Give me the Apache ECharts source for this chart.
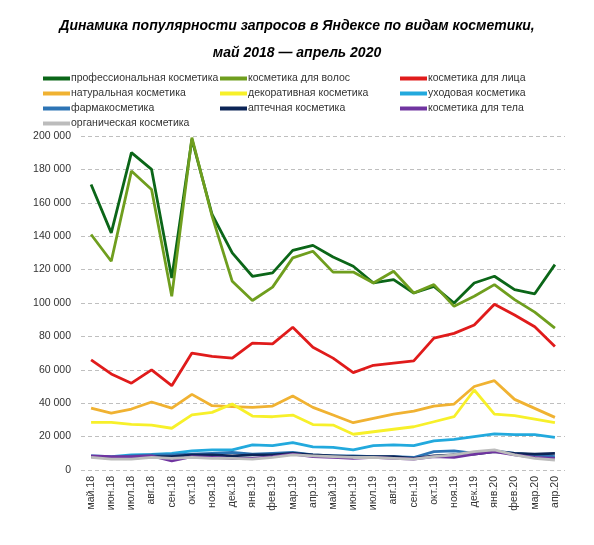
<!DOCTYPE html>
<html>
<head>
<meta charset="utf-8">
<script src="https://cdn.jsdelivr.net/npm/echarts@6/dist/echarts.min.js"></script>
<style>
html,body{margin:0;padding:0;background:#fff;}
#chart{width:594px;height:545px;}
</style>
</head>
<body>
<div id="chart"></div>
<script>
const categories = ['май.18','июн.18','июл.18','авг.18','сен.18','окт.18','ноя.18','дек.18','янв.19','фев.19','мар.19','апр.19','май.19','июн.19','июл.19','авг.19','сен.19','окт.19','ноя.19','дек.19','янв.20','фев.20','мар.20','апр.20'];

const professional = [171000,142000,190000,180000,115000,198000,153000,130000,116000,118000,131500,134500,127500,122000,112000,114000,106000,110000,100000,112000,116000,108000,105500,123000];
const hair = [141000,125000,179000,168000,104000,199000,152000,113000,101500,109500,127000,131000,118500,118500,112000,119000,106000,111000,98000,104000,111000,102000,94500,85000];
const face = [66000,57500,52000,60000,50500,70000,68000,67000,76000,75500,85500,73500,67000,58300,62700,64000,65300,79000,81800,86800,99300,92800,85800,74000];
const natural = [37000,34000,36500,40700,37000,45300,38500,38000,37500,38300,44300,37500,32900,28300,30900,33500,35300,38300,39500,50000,53500,42300,36900,31500];
const decorative = [28500,28500,27300,26900,25000,33000,34500,39500,32300,31900,32900,27200,26900,21400,22900,24400,25900,28900,31900,47900,33500,32500,30500,28300];
const skincare = [8400,8000,9000,9400,10000,11400,12000,12000,15000,14600,16400,13800,13600,12000,14600,15000,14600,17400,18400,20000,21600,21200,21200,19600];
const pharma = [8000,7500,8500,9000,9000,9500,10000,10500,9500,10000,10500,9000,8500,8500,8000,8000,7500,11000,11500,10000,11500,10000,9000,8000];
const pharmacy = [8000,7000,7000,8000,8000,9000,9000,8500,9000,9000,10000,9000,8500,8000,8000,8000,7000,8500,9000,9500,11000,10000,9500,10000];
const body = [8500,8000,8000,8500,5500,8000,7500,7000,7000,8000,9500,8000,7500,7000,7500,7000,6500,8000,7500,9500,11000,9000,7500,7000];
const organic = [7500,6500,6500,7500,7000,7500,7000,7000,6500,7500,9000,8500,8000,7500,7500,7000,6500,8000,9000,11000,12000,9000,7000,6000];

const names = ['профессиональная косметика','косметика для волос','косметика для лица','натуральная косметика','декоративная косметика','уходовая косметика','фармакосметика','аптечная косметика','косметика для тела','органическая косметика'];
const values = [professional,hair,face,natural,decorative,skincare,pharma,pharmacy,body,organic];
const colors = ['#0b6618','#6f9e1e','#e01b1b','#f0b232','#f7f02a','#22a9dd','#2d74b5','#0c2456','#7034a0','#bcbcbc'];

const chart = echarts.init(document.getElementById('chart'));
const legendText = {fontFamily:'Liberation Sans, Arial, sans-serif', fontSize:10.5, color:'#333', lineHeight:13, padding:[0,0,0,-4]};
function legend(idx, left){
  return {
    orient:'vertical', left:left, top:67, itemGap:2, itemWidth:27, itemHeight:4,
    icon:'rect', textStyle:legendText, selectedMode:false,
    data: idx.map(i=>({name:names[i]}))
  };
}
const fmt = v => String(v).replace(/\B(?=(\d{3})+(?!\d))/g, '\u00a0');

chart.setOption({
  animation:false,
  backgroundColor:'#fff',
  title:{
    text:'Динамика популярности запросов в Яндексе по видам косметики,\nмай 2018 — апрель 2020',
    left:'center', top:8,
    textStyle:{fontFamily:'Liberation Sans, Arial, sans-serif', fontSize:14, fontWeight:'bold', fontStyle:'italic', color:'#000', lineHeight:27}
  },
  legend:[legend([0,3,6,9],38), legend([1,4,7],215), legend([2,5,8],395)],
  grid:{left:81, right:29, top:136, bottom:75},
  xAxis:{
    type:'category', data:categories, boundaryGap:true,
    axisLine:{show:false}, axisTick:{show:false},
    axisLabel:{rotate:90, interval:0, fontFamily:'Liberation Sans, Arial, sans-serif', fontSize:10.5, color:'#333', margin:6}
  },
  yAxis:{
    type:'value', min:0, max:200000, interval:20000,
    axisLine:{show:false}, axisTick:{show:false},
    axisLabel:{formatter:fmt, fontFamily:'Liberation Sans, Arial, sans-serif', fontSize:10.5, color:'#333', margin:10},
    splitLine:{lineStyle:{type:[4,3], color:'#bfbfbf', width:1}}
  },
  series: values.map((d,i)=>({
    name:names[i], type:'line', data:d, showSymbol:false, symbol:'none',
    lineStyle:{width:2.8, color:colors[i]}, itemStyle:{color:colors[i]}
  }))
});
</script>
</body>
</html>
